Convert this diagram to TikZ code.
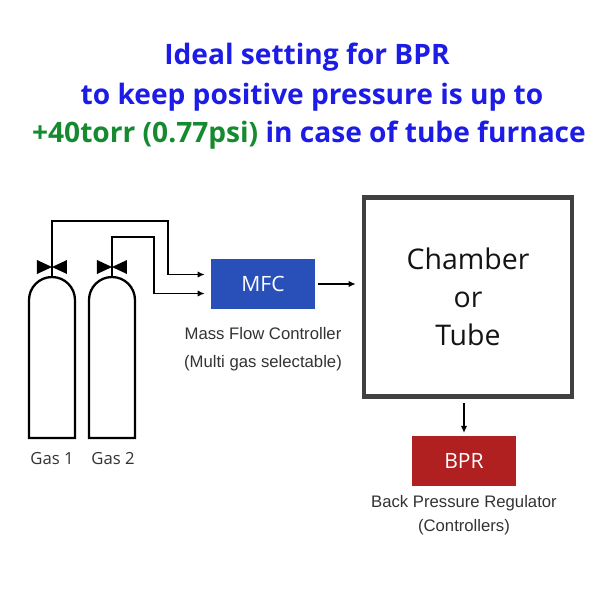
\documentclass[tikz,border=0pt]{standalone}
\usepackage{fontspec}
\setmainfont{Open Sans}
\newfontfamily\arialfont{Liberation Sans}
\usetikzlibrary{positioning,arrows.meta}
\definecolor{titleblue}{RGB}{28,28,230}
\definecolor{titlegreen}{RGB}{22,138,46}
\definecolor{mfcblue}{RGB}{40,80,184}
\definecolor{bprred}{RGB}{176,32,32}
\definecolor{wallgrey}{RGB}{64,64,64}
\definecolor{lblgrey}{RGB}{51,51,51}
% one gas bottle with its valve, #1 = centre x
\newcommand{\gascyl}[1]{%
\draw[cyl] (#1-23,438) -- (#1-23,300) arc[start angle=180,end angle=0,radius=0.46cm] -- (#1+23,438) -- cycle;
\fill (#1-15,260) -- (#1,267) -- (#1-15,274) -- cycle;
\fill (#1+15,260) -- (#1,267) -- (#1+15,274) -- cycle;
\draw[pipe] (#1,267) -- (#1,277);}

\begin{document}
\begin{tikzpicture}[x=0.02cm,y=-0.02cm,on grid,
  pipe/.style={line width=0.8pt},
  flow/.style={line width=0.8pt,-{Latex[length=4pt,width=3.6pt]}},
  cyl/.style={line width=1.3pt,fill=white},
  lbl/.style={font=\arialfont\fontsize{9.5}{11}\selectfont,text=lblgrey,inner sep=0pt},
  unit/.style={rectangle,inner sep=0pt,minimum width=2.08cm,minimum height=1cm,text=white,font=\fontsize{12}{14}\selectfont},
  headline/.style={font=\bfseries\fontsize{16}{19}\selectfont,text=titleblue,inner sep=0pt}]
\fill[white] (0,0) rectangle (600,600);
\useasboundingbox (0,0) rectangle (600,600);
% title
\node[headline](t_1) at (307,57) {Ideal setting for BPR};
\node[headline](t_2) at (312,97) {to keep positive pressure is up to};
\node[headline](t_3) at (309,135) {{\color{titlegreen}+40torr (0.77psi)} in case of tube furnace};
% bottles
\gascyl{52}
\gascyl{112}
\coordinate (v_1) at (52,267);
\coordinate (v_2) at (112,267);
\node[lbl,font=\fontsize{9.5}{11}\selectfont](g_1) at (52,459) {Gas 1};
\node[lbl,font=\fontsize{9.5}{11}\selectfont](g_2) at (113,459) {Gas 2};
% units
\node[unit,fill=mfcblue](q_mfc) at (263,284) {MFC};
\node[rectangle,draw=wallgrey,line width=2.4pt,minimum width=4.16cm,minimum height=3.98cm,align=center,
  font=\fontsize{16.2}{21.8}\selectfont,text=black!92](q_ch) at (468,297) {Chamber\\or\\Tube};
\node[unit,fill=bprred](q_bpr) at (464,461) {BPR};
\node[lbl](l_mfc)[below=0.99cm of q_mfc] {Mass Flow Controller};
\node[lbl](l_mfc2)[below=0.6cm of l_mfc] {(Multi gas selectable)};
\node[lbl](l_bpr)[below=0.84cm of q_bpr] {Back Pressure Regulator};
\node[lbl](l_bpr2)[below=0.48cm of l_bpr] {(Controllers)};
% pipes
\coordinate (p_1) at (168,221);
\coordinate (p_2) at (154,237);
\draw[flow,shorten >=3.4pt] (v_1) |- (p_1) |- ([yshift=0.19cm]q_mfc.west);
\draw[flow,shorten >=3.4pt] (v_2) |- (p_2) |- ([yshift=-0.19cm]q_mfc.west);
\draw[flow,shorten <=1.5pt,shorten >=3.5pt] (q_mfc.east) -- (q_mfc.east -| q_ch.west);
\draw[flow,shorten <=2.5pt,shorten >=1.5pt] (q_ch.south -| q_bpr.north) -- (q_bpr.north);
\end{tikzpicture}
\end{document}
